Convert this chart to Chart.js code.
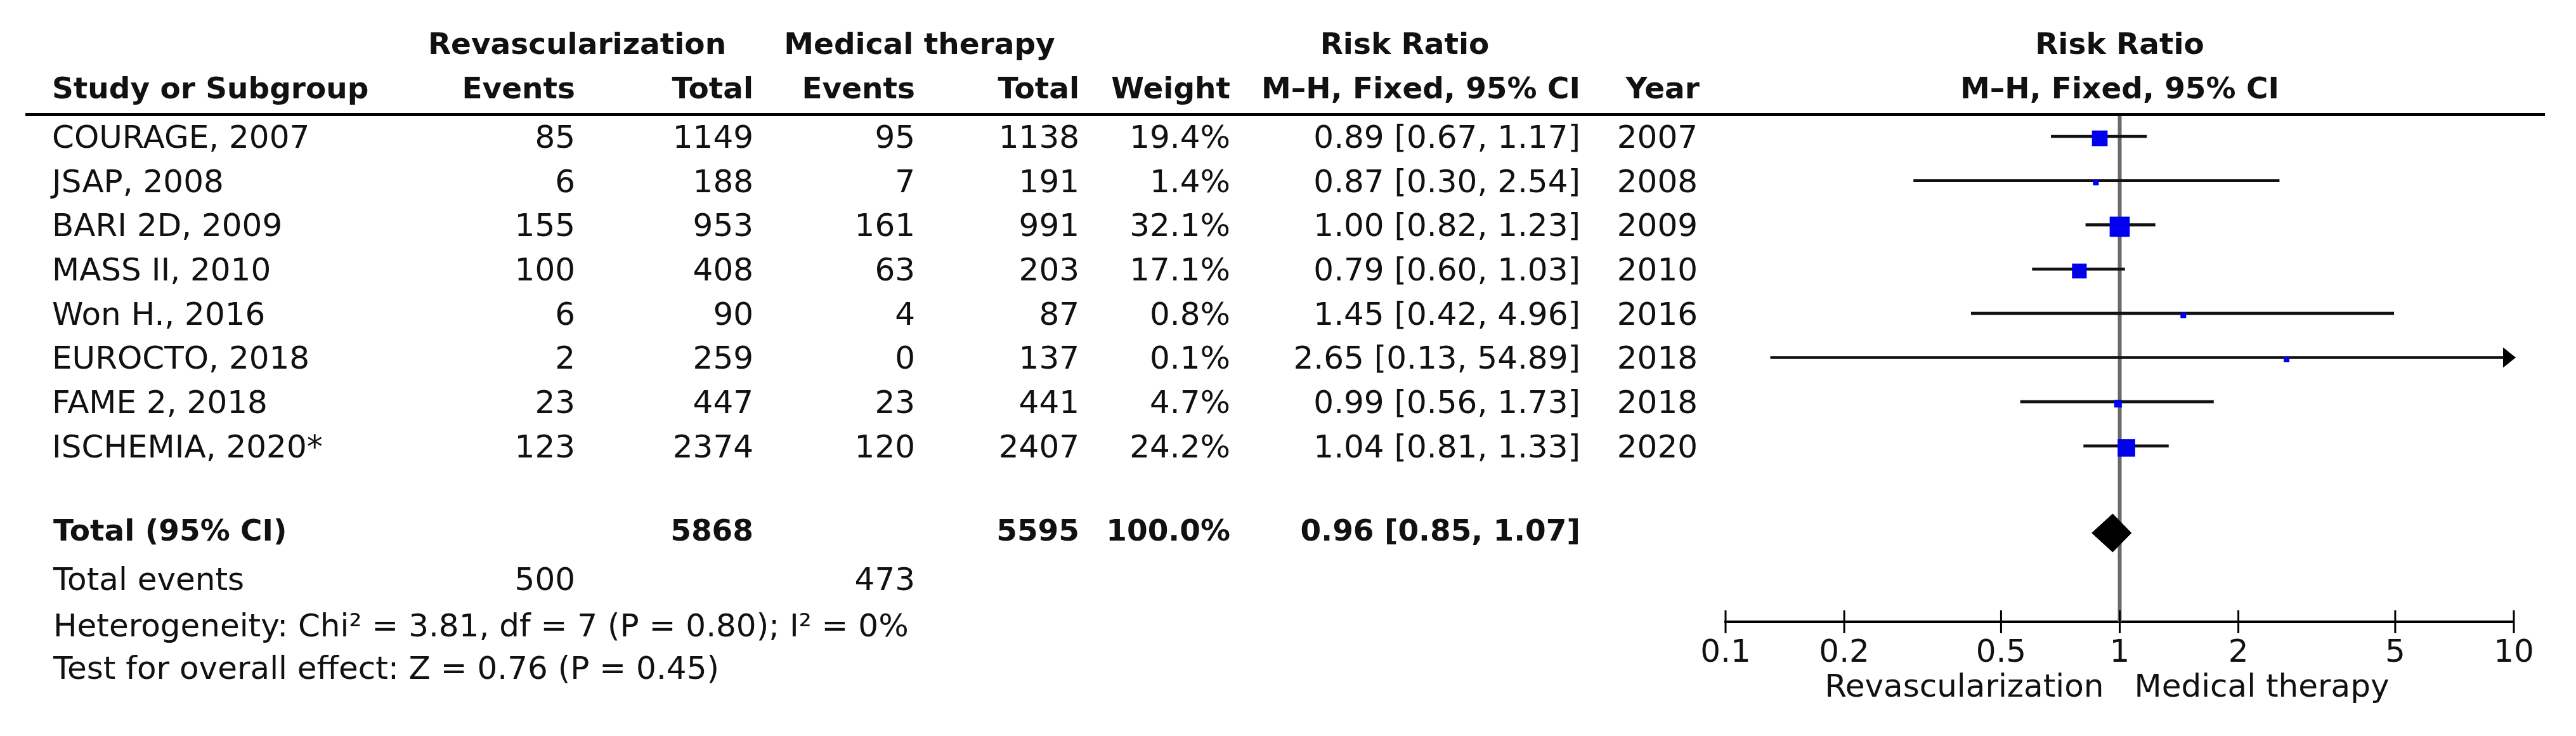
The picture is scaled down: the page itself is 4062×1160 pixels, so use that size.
<!DOCTYPE html>
<html>
<head>
<meta charset="utf-8">
<script src="https://cdn.jsdelivr.net/npm/chart.js@4.4.1/dist/chart.umd.min.js"></script>
<style>
  html, body { margin: 0; padding: 0; background: #ffffff; }
  #wrap { width: 4062px; height: 1160px; position: relative; }
  canvas { display: block; }
</style>
</head>
<body>
<div id="wrap"><canvas id="c" width="4062" height="1160"></canvas></div>
<script>
// ---------------- DATA ----------------
const studies    = ["COURAGE, 2007", "JSAP, 2008", "BARI 2D, 2009", "MASS II, 2010", "Won H., 2016", "EUROCTO, 2018", "FAME 2, 2018", "ISCHEMIA, 2020*"];
const revEvents  = [85, 6, 155, 100, 6, 2, 23, 123];
const revTotal   = [1149, 188, 953, 408, 90, 259, 447, 2374];
const medEvents  = [95, 7, 161, 63, 4, 0, 23, 120];
const medTotal   = [1138, 191, 991, 203, 87, 137, 441, 2407];
const weights    = [19.4, 1.4, 32.1, 17.1, 0.8, 0.1, 4.7, 24.2];
const riskRatio  = [0.89, 0.87, 1.00, 0.79, 1.45, 2.65, 0.99, 1.04];
const ciLow      = [0.67, 0.30, 0.82, 0.60, 0.42, 0.13, 0.56, 0.81];
const ciHigh     = [1.17, 2.54, 1.23, 1.03, 4.96, 54.89, 1.73, 1.33];
const years      = [2007, 2008, 2009, 2010, 2016, 2018, 2018, 2020];

const pooled        = [0.96, 0.85, 1.07];   // estimate, low, high
const totalsN       = [5868, 5595];          // revascularization, medical therapy
const totalWeight   = "100.0%";
const totalEvents   = [500, 473];
const heterogeneity = "Heterogeneity: Chi\u00B2 = 3.81, df = 7 (P = 0.80); I\u00B2 = 0%";
const overallTest   = "Test for overall effect: Z = 0.76 (P = 0.45)";

const tickValues = [0.1, 0.2, 0.5, 1, 2, 5, 10];
const tickLabels = ["0.1", "0.2", "0.5", "1", "2", "5", "10"];
const favoursLeft  = "Revascularization";
const favoursRight = "Medical therapy";

// ---------------- LAYOUT / STYLE ----------------
const W = 4062, H = 1160;
const LAY = {
  lineTop: 180, axisY: 980, plotLeft: 2721, plotRight: 3964,
  rowFirst: 220, rowStep: 69.7,
  headRow1: -2.11, headRow2: -1.105,
  totalRow: 8.895, eventsRow: 10.0, hetRow: 11.05, testRow: 12.01,
  axisTitleY: 1085, ruleLeft: 40, ruleRight: 4013,
  ciLiftPx: 5, squareLiftPx: 2, diamondHalfPx: 30
};
const COL = { name: 82, summary: 84, revE: 907, revT: 1188, medE: 1443, medT: 1702, weight: 1940, rr: 2492, year: 2677 };
const HEAD1 = { rev: 910, med: 1450, rr: 2215 };
const REG  = '50px "DejaVu Sans"';
const BOLD = 'bold 47px "DejaVu Sans"';
const TXT  = '#111111';
const yMin = -(LAY.rowFirst - LAY.lineTop) / LAY.rowStep;
const yMax = yMin + (LAY.axisY - LAY.lineTop) / LAY.rowStep;
const px2row = p => p / LAY.rowStep;

const squareSide = w => Math.max(9, 5.6 * Math.sqrt(w));

const fmt2 = v => v.toFixed(2);
const rrText = (e, l, h) => fmt2(e) + " [" + fmt2(l) + ", " + fmt2(h) + "]";

// ---------------- PLUGINS ----------------
const nullLine = {
  id: 'nullLine',
  beforeDatasetsDraw(chart) {
    const { ctx, chartArea: ca, scales: { x } } = chart;
    const px = x.getPixelForValue(1);
    ctx.save();
    ctx.strokeStyle = '#6a6a6a';
    ctx.lineWidth = 6;
    ctx.beginPath();
    ctx.moveTo(px, LAY.lineTop);
    ctx.lineTo(px, ca.bottom);
    ctx.stroke();
    ctx.restore();
  }
};

const decorations = {
  id: 'decorations',
  afterDraw(chart) {
    const { ctx, chartArea: ca, scales: { x, y } } = chart;
    const ry = v => y.getPixelForValue(v);
    ctx.save();
    ctx.fillStyle = TXT;
    ctx.textBaseline = 'middle';
    const t = (s, px, row, align, font) => {
      ctx.font = font || REG;
      ctx.textAlign = align || 'right';
      ctx.fillText(String(s), px, ry(row));
    };

    // header rule
    ctx.fillStyle = '#000';
    ctx.fillRect(LAY.ruleLeft, LAY.lineTop - 2, LAY.ruleRight - LAY.ruleLeft, 5);
    ctx.fillStyle = TXT;

    // headers
    t("Revascularization", HEAD1.rev, LAY.headRow1, 'center', BOLD);
    t("Medical therapy", HEAD1.med, LAY.headRow1, 'center', BOLD);
    t("Risk Ratio", HEAD1.rr, LAY.headRow1, 'center', BOLD);
    t("Risk Ratio", (ca.left + ca.right) / 2, LAY.headRow1, 'center', BOLD);
    t("Study or Subgroup", COL.name, LAY.headRow2, 'left', BOLD);
    t("Events", COL.revE, LAY.headRow2, 'right', BOLD);
    t("Total", COL.revT, LAY.headRow2, 'right', BOLD);
    t("Events", COL.medE, LAY.headRow2, 'right', BOLD);
    t("Total", COL.medT, LAY.headRow2, 'right', BOLD);
    t("Weight", COL.weight, LAY.headRow2, 'right', BOLD);
    t("M\u2013H, Fixed, 95% CI", COL.rr, LAY.headRow2, 'right', BOLD);
    t("Year", COL.year + 3, LAY.headRow2, 'right', BOLD);
    t("M\u2013H, Fixed, 95% CI", (ca.left + ca.right) / 2, LAY.headRow2, 'center', BOLD);

    // study rows
    studies.forEach((s, i) => {
      t(s, COL.name, i, 'left');
      t(revEvents[i], COL.revE, i);
      t(revTotal[i], COL.revT, i);
      t(medEvents[i], COL.medE, i);
      t(medTotal[i], COL.medT, i);
      t(weights[i].toFixed(1) + "%", COL.weight, i);
      t(rrText(riskRatio[i], ciLow[i], ciHigh[i]), COL.rr, i);
      t(years[i], COL.year, i);
    });

    // totals
    t("Total (95% CI)", COL.summary, LAY.totalRow, 'left', BOLD);
    t(totalsN[0], COL.revT, LAY.totalRow, 'right', BOLD);
    t(totalsN[1], COL.medT, LAY.totalRow, 'right', BOLD);
    t(totalWeight, COL.weight, LAY.totalRow, 'right', BOLD);
    t(rrText(pooled[0], pooled[1], pooled[2]), COL.rr, LAY.totalRow, 'right', BOLD);
    t("Total events", COL.summary, LAY.eventsRow, 'left');
    t(totalEvents[0], COL.revE, LAY.eventsRow);
    t(totalEvents[1], COL.medE, LAY.eventsRow);
    t(heterogeneity, COL.summary, LAY.hetRow, 'left');
    t(overallTest, COL.summary, LAY.testRow, 'left');

    // arrows for CIs running off the axis
    const xMax = x.max;
    ciHigh.forEach((h, i) => {
      if (h > xMax) {
        const tip = x.getPixelForValue(xMax) + 3;
        const py = ry(i - px2row(LAY.ciLiftPx));
        ctx.fillStyle = '#000';
        ctx.beginPath();
        ctx.moveTo(tip, py);
        ctx.lineTo(tip - 20, py - 16);
        ctx.lineTo(tip - 20, py + 16);
        ctx.closePath();
        ctx.fill();
      }
    });

    // tick marks across axis line
    ctx.strokeStyle = '#000';
    ctx.lineWidth = 3;
    x.ticks.forEach(tk => {
      const px = x.getPixelForValue(tk.value);
      ctx.beginPath();
      ctx.moveTo(px, ca.bottom - 18);
      ctx.lineTo(px, ca.bottom + 18);
      ctx.stroke();
    });

    // favours labels
    const one = x.getPixelForValue(1);
    ctx.fillStyle = TXT;
    ctx.font = REG;
    ctx.textAlign = 'right';
    ctx.fillText(favoursLeft, one - 25, LAY.axisTitleY);
    ctx.textAlign = 'left';
    ctx.fillText(favoursRight, one + 23, LAY.axisTitleY);
    ctx.restore();
  }
};

// ---------------- CHART ----------------
const ciData     = studies.map((s, i) => ({ x: [ciLow[i], ciHigh[i]], y: i - px2row(LAY.ciLiftPx) }));
const squareData = studies.map((s, i) => ({ x: riskRatio[i], y: i - px2row(LAY.squareLiftPx) }));
const dh = px2row(LAY.diamondHalfPx);
const diamondData = [
  { x: pooled[1], y: LAY.totalRow },
  { x: pooled[0], y: LAY.totalRow - dh },
  { x: pooled[2], y: LAY.totalRow },
  { x: pooled[0], y: LAY.totalRow + dh },
  { x: pooled[1], y: LAY.totalRow }
];

new Chart(document.getElementById('c'), {
  type: 'scatter',
  data: {
    datasets: [
      {
        type: 'scatter', label: 'Study estimate', data: squareData,
        pointStyle: 'rect', backgroundColor: '#0000ee', borderWidth: 0,
        pointRadius: c => squareSide(weights[c.dataIndex]) / Math.SQRT2,
        order: 1
      },
      {
        type: 'bar', label: '95% CI', data: ciData, indexAxis: 'y',
        backgroundColor: '#111111', borderWidth: 0, barThickness: 4,
        order: 2
      },
      {
        type: 'scatter', label: 'Pooled', data: diamondData, showLine: true,
        fill: 'shape', backgroundColor: '#000', borderColor: '#000', borderWidth: 1,
        pointRadius: 0, tension: 0, order: 0
      }
    ]
  },
  options: {
    responsive: false, animation: false, events: [], devicePixelRatio: 1,
    layout: { padding: { top: LAY.lineTop, left: LAY.plotLeft, right: W - LAY.plotRight, bottom: 0 } },
    plugins: { legend: { display: false }, tooltip: { enabled: false }, title: { display: false } },
    scales: {
      x: {
        type: 'logarithmic', position: 'bottom', min: 0.1, max: 10, offset: false, beginAtZero: false,
        afterBuildTicks: s => { s.ticks = tickValues.map(v => ({ value: v })); },
        afterFit: s => { s.height = H - LAY.axisY; },
        grid: { display: false, drawTicks: false, offset: false },
        border: { display: true, color: '#000', width: 4 },
        ticks: {
          autoSkip: false, maxRotation: 0, padding: 20, color: TXT,
          font: { family: 'DejaVu Sans', size: 50 },
          callback: v => tickLabels[tickValues.indexOf(v)]
        }
      },
      y: { type: 'linear', reverse: true, min: yMin, max: yMax, display: false, offset: false, grid: { offset: false } }
    }
  },
  plugins: [nullLine, decorations]
});
</script>
</body>
</html>
